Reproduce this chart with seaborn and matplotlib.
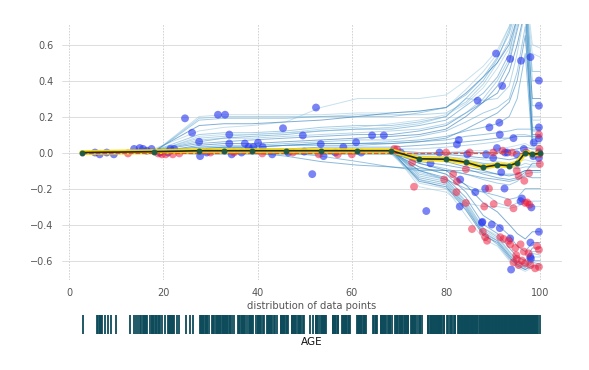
import numpy as np
import pandas as pd
import seaborn as sns
import matplotlib.pyplot as plt

# grid of AGE values where the ICE / PDP curves are evaluated
grid_x = [2.7, 18.0, 27.6, 32.9, 38.8, 46.0, 53.4, 61.2, 68.4, 74.3, 80.0,
          84.2, 87.9, 90.9, 93.4, 95.1, 96.8, 98.3, 100.0]

pdp_y = [0.0, 0.005, 0.01, 0.01, 0.01, 0.01, 0.01, 0.01, 0.01, -0.035, -0.037,
         -0.054, -0.082, -0.068, -0.073, -0.057, 0.0, -0.01, -0.005]

ice_lines = [
    # lines that climb early and surge at the top end
    [0, 0.00, 0.20, 0.21, 0.21, 0.21, 0.21, 0.22, 0.22, 0.23, 0.25, 0.35, 0.45, 0.55, 0.70, 0.85, 0.90, 0.55, 0.53],
    [0, 0.00, 0.19, 0.20, 0.20, 0.20, 0.20, 0.21, 0.21, 0.21, 0.22, 0.28, 0.38, 0.50, 0.62, 0.80, 0.90, 0.40, 0.40],
    [0, 0.01, 0.10, 0.11, 0.11, 0.12, 0.14, 0.15, 0.15, 0.17, 0.20, 0.30, 0.40, 0.52, 0.68, 0.85, 0.95, 0.26, 0.26],
    [0, 0.01, 0.06, 0.08, 0.09, 0.10, 0.12, 0.13, 0.13, 0.15, 0.18, 0.26, 0.33, 0.42, 0.55, 0.75, 0.90, 0.14, 0.14],
    [0, 0.01, 0.05, 0.06, 0.07, 0.08, 0.09, 0.10, 0.10, 0.12, 0.15, 0.22, 0.28, 0.37, 0.50, 0.68, 0.85, 0.08, 0.08],
    [0, 0.00, 0.04, 0.05, 0.05, 0.06, 0.07, 0.08, 0.09, 0.10, 0.13, 0.20, 0.28, 0.33, 0.45, 0.60, 0.80, 0.10, 0.10],
    [0, 0.02, 0.12, 0.14, 0.15, 0.17, 0.25, 0.30, 0.30, 0.30, 0.32, 0.40, 0.48, 0.57, 0.70, 0.85, 0.95, 0.60, 0.58],
    [0, 0.01, 0.08, 0.09, 0.10, 0.11, 0.12, 0.13, 0.14, 0.16, 0.20, 0.30, 0.29, 0.30, 0.37, 0.55, 0.80, 0.06, 0.06],
    [0, 0.00, 0.03, 0.04, 0.04, 0.05, 0.06, 0.07, 0.07, 0.09, 0.12, 0.17, 0.22, 0.25, 0.30, 0.45, 0.70, 0.05, 0.05],
    [0, 0.00, 0.02, 0.03, 0.03, 0.04, 0.05, 0.05, 0.06, 0.07, 0.09, 0.12, 0.14, 0.16, 0.20, 0.30, 0.55, 0.04, 0.04],
    [0, 0.00, 0.02, 0.03, 0.03, 0.04, 0.05, 0.05, 0.05, 0.06, 0.08, 0.13, 0.18, 0.22, 0.28, 0.40, 0.65, 0.12, 0.12],
    [0, 0.01, 0.15, 0.16, 0.16, 0.17, 0.18, 0.20, 0.22, 0.23, 0.25, 0.33, 0.42, 0.50, 0.60, 0.75, 0.85, 0.30, 0.30],
    [0, 0.00, 0.09, 0.10, 0.10, 0.11, 0.13, 0.14, 0.16, 0.18, 0.21, 0.27, 0.36, 0.47, 0.58, 0.72, 0.88, 0.20, 0.20],
    [0, 0.01, 0.07, 0.08, 0.08, 0.09, 0.10, 0.11, 0.12, 0.13, 0.16, 0.22, 0.30, 0.40, 0.52, 0.70, 0.88, 0.18, 0.18],
    [0, 0.00, 0.18, 0.19, 0.19, 0.19, 0.20, 0.20, 0.20, 0.22, 0.25, 0.32, 0.42, 0.53, 0.66, 0.82, 0.92, 0.45, 0.45],
    # lines that stay close to zero
    [0, 0.01, 0.03, 0.03, 0.03, 0.04, 0.04, 0.04, 0.05, 0.06, 0.07, 0.09, 0.10, 0.11, 0.12, 0.13, 0.13, 0.13, 0.13],
    [0, 0.00, 0.01, 0.02, 0.02, 0.02, 0.03, 0.03, 0.03, 0.04, 0.05, 0.06, 0.07, 0.08, 0.08, 0.09, 0.09, 0.09, 0.09],
    [0, 0.00, 0.01, 0.01, 0.01, 0.01, 0.01, 0.01, 0.01, 0.00, 0.00, 0.00, 0.00, 0.00, 0.01, 0.02, 0.03, 0.02, 0.02],
    [0, 0.00, 0.00, 0.00, 0.00, 0.00, 0.00, 0.00, 0.00, -0.02, -0.03, -0.03, -0.04, -0.05, -0.06, -0.05, -0.04, -0.05, -0.05],
    [0, 0.00, 0.02, 0.02, 0.02, 0.02, 0.02, 0.02, 0.02, 0.02, 0.03, 0.04, 0.05, 0.06, 0.08, 0.10, 0.10, 0.09, 0.09],
    [0, 0.00, -0.01, -0.01, -0.01, -0.01, -0.01, -0.01, -0.01, -0.03, -0.04, -0.05, -0.06, -0.07, -0.08, -0.09, -0.08, -0.08, -0.08],
    [0, 0.00, 0.01, 0.01, 0.01, 0.00, -0.02, -0.05, -0.08, -0.10, -0.10, -0.10, -0.11, -0.12, -0.12, -0.12, -0.10, -0.10, -0.10],
    [0, 0.00, 0.01, 0.01, 0.00, -0.02, -0.05, -0.07, -0.08, -0.09, -0.10, -0.12, -0.14, -0.15, -0.16, -0.15, -0.13, -0.14, -0.14],
    [0, 0.00, 0.00, 0.00, 0.00, 0.00, 0.00, 0.00, 0.00, -0.01, -0.01, -0.02, -0.03, -0.03, -0.04, -0.03, 0.00, -0.02, -0.02],
    [0, 0.00, 0.01, 0.01, 0.01, 0.01, 0.01, 0.01, 0.01, 0.00, 0.00, 0.01, 0.01, 0.02, 0.03, 0.04, 0.05, 0.03, 0.03],
    [0, 0.00, 0.00, 0.00, 0.00, 0.00, 0.00, 0.00, 0.00, -0.02, -0.02, -0.04, -0.06, -0.06, -0.07, -0.08, -0.06, -0.07, -0.07],
    # lines that fall moderately after 70
    [0, 0.00, 0.00, 0.00, 0.00, 0.00, 0.00, 0.00, 0.01, -0.06, -0.09, -0.12, -0.15, -0.17, -0.18, -0.16, -0.12, -0.11, -0.11],
    [0, 0.00, 0.00, 0.00, 0.00, 0.00, 0.00, 0.00, 0.00, -0.10, -0.15, -0.20, -0.22, -0.24, -0.26, -0.25, -0.20, -0.20, -0.20],
    [0, 0.00, 0.00, 0.00, 0.00, 0.00, 0.00, 0.00, 0.00, -0.05, -0.07, -0.09, -0.12, -0.14, -0.15, -0.14, -0.11, -0.06, -0.06],
    [0, 0.00, 0.01, 0.01, 0.01, 0.01, 0.01, 0.01, 0.01, -0.03, -0.05, -0.08, -0.10, -0.12, -0.13, -0.12, -0.10, -0.10, -0.10],
    [0, 0.00, 0.00, 0.00, 0.00, 0.00, 0.00, 0.00, -0.01, -0.15, -0.20, -0.28, -0.30, -0.30, -0.31, -0.30, -0.28, -0.30, -0.30],
    [0, 0.00, 0.00, 0.00, 0.00, 0.00, 0.00, 0.00, 0.00, -0.08, -0.12, -0.18, -0.22, -0.28, -0.30, -0.28, -0.27, -0.27, -0.27],
    # lines that fall deep after 70
    [0, 0.00, 0.00, 0.00, 0.00, 0.00, 0.00, 0.00, 0.01, -0.12, -0.15, -0.27, -0.42, -0.47, -0.55, -0.60, -0.62, -0.55, -0.55],
    [0, 0.00, 0.00, 0.00, 0.00, 0.00, 0.00, 0.00, 0.00, -0.14, -0.17, -0.30, -0.45, -0.49, -0.57, -0.62, -0.64, -0.60, -0.60],
    [0, 0.00, 0.00, 0.00, 0.00, 0.00, 0.00, 0.00, 0.01, -0.10, -0.14, -0.25, -0.40, -0.45, -0.53, -0.58, -0.60, -0.53, -0.53],
    [0, 0.00, 0.00, 0.00, 0.00, 0.00, 0.00, 0.00, 0.01, -0.16, -0.19, -0.32, -0.46, -0.50, -0.58, -0.63, -0.65, -0.63, -0.63],
    [0, 0.00, 0.00, 0.00, 0.00, 0.00, 0.00, 0.00, 0.00, -0.17, -0.20, -0.35, -0.48, -0.52, -0.60, -0.64, -0.66, -0.64, -0.64],
    [0, 0.00, 0.00, 0.00, 0.00, 0.00, 0.00, 0.00, 0.00, -0.11, -0.15, -0.28, -0.43, -0.48, -0.56, -0.61, -0.63, -0.58, -0.58],
    [0, 0.00, 0.00, 0.00, 0.00, 0.00, 0.00, 0.00, 0.01, -0.13, -0.16, -0.29, -0.44, -0.49, -0.57, -0.61, -0.63, -0.56, -0.57],
    [0, 0.00, 0.00, 0.00, 0.00, 0.00, 0.00, 0.00, 0.00, -0.15, -0.18, -0.31, -0.45, -0.51, -0.59, -0.62, -0.65, -0.61, -0.62],
    [0, 0.00, 0.00, 0.00, 0.00, 0.00, 0.00, 0.00, 0.00, -0.08, -0.12, -0.22, -0.35, -0.40, -0.46, -0.52, -0.55, -0.50, -0.50],
    [0, 0.00, 0.00, 0.00, 0.00, 0.00, 0.00, 0.00, 0.00, -0.06, -0.10, -0.18, -0.28, -0.33, -0.40, -0.45, -0.48, -0.44, -0.44],
    [0, 0.00, 0.00, 0.00, 0.00, 0.00, 0.00, 0.00, 0.01, -0.19, -0.22, -0.30, -0.42, -0.46, -0.55, -0.60, -0.63, -0.60, -0.60],
]

blue_x = [5.5, 6.5, 8.0, 9.5, 13.8, 15.0, 15.7, 16.5, 17.5, 19.3, 21.0, 21.5, 22.3, 24.6,
          26.1, 27.6, 27.8, 29.2, 31.6, 33.1, 34.0, 34.0, 34.5, 36.6, 37.3, 38.1, 39.1,
          40.1, 41.1, 43.1, 45.4, 46.5, 49.6, 49.9, 51.6, 52.4, 53.4, 54.0, 56.5, 58.2,
          60.9, 62.0, 64.3, 66.8, 70.4, 75.8, 76.7, 78.6, 82.3, 82.7, 83.0, 82.9, 84.5,
          86.2, 86.7, 87.7, 88.3, 89.2, 89.7, 90.6, 90.8, 91.3, 91.4, 91.4, 91.7, 91.9,
          92.4, 93.6, 93.8, 94.3, 95.8, 95.9, 96.1, 97.9, 97.9, 97.9, 98.1, 98.6, 99.7,
          99.7, 99.7, 99.7, 99.7, 99.7, 99.7, 95.0, 93.0, 88.5, 90.0, 92.5, 96.5, 98.5,
          87.6, 93.6, 98.0]
blue_y = [0.0, -0.01, 0.0, -0.01, 0.02, 0.025, 0.02, 0.01, 0.02, 0.0, 0.0, 0.02, 0.02, 0.19,
          0.11, 0.06, -0.02, 0.0, 0.21, 0.21, 0.10, 0.05, -0.01, 0.0, 0.05, 0.03, 0.03,
          0.055, 0.03, -0.01, 0.135, 0.0, 0.095, 0.005, -0.12, 0.25, 0.047, -0.02, 0.0, 0.03,
          0.057, 0.0, 0.095, 0.095, 0.0, -0.325, -0.06, 0.0, 0.045, 0.07, -0.15, -0.30, -0.01,
          -0.22, 0.288, -0.385, -0.20, 0.14, -0.40, 0.55, 0.025, 0.166, 0.10, -0.42, -0.11, 0.37,
          -0.20, 0.52, -0.65, 0.08, -0.27, 0.51, -0.255, 0.53, -0.50, -0.58, -0.305, 0.055, 0.40,
          0.26, 0.14, 0.078, 0.0, -0.44, -0.03, -0.01, 0.0, -0.01, -0.03, 0.0, 0.02, -0.02,
          -0.39, -0.477, -0.59]

red_x = [12.5, 18.9, 19.7, 20.5, 22.0, 23.4, 30.0, 35.0, 41.0, 47.5, 53.0, 57.0, 60.0,
         69.0, 69.6, 72.8, 73.2, 79.6, 81.5, 82.3, 82.2, 84.2, 84.2, 85.5, 88.1, 89.1,
         90.1, 93.1, 94.3, 95.0, 95.4, 96.6, 97.2, 97.6, 99.9, 99.7, 99.8, 99.8, 87.8,
         88.3, 88.7, 91.5, 92.2, 93.3, 93.6, 94.7, 95.8, 94.9, 96.1, 94.3, 95.4, 96.8,
         97.9, 99.3, 99.7, 99.7, 98.9, 96.5, 97.5, 95.0, 90.0, 92.0, 94.0, 97.0, 85.0,
         80.0, 96.8, 97.7]
red_y = [-0.005, -0.005, -0.01, -0.01, -0.01, -0.005, 0.0, 0.0, -0.005, 0.0, -0.01, -0.01, -0.01,
         0.02, 0.018, -0.055, -0.19, -0.15, -0.12, -0.16, -0.22, -0.28, -0.093, -0.425, -0.30, -0.20,
         -0.286, -0.277, -0.31, -0.10, -0.13, -0.157, -0.277, -0.115, -0.064, 0.10, 0.02, -0.01, -0.44,
         -0.47, -0.49, -0.47, -0.48, -0.49, -0.51, -0.53, -0.51, -0.57, -0.60, -0.61, -0.625, -0.615,
         -0.625, -0.52, -0.54, -0.635, -0.643, -0.55, -0.56, -0.59, 0.0, 0.01, 0.0, 0.0, 0.0,
         0.0, -0.28, -0.29]

age_values = [
    2.9, 6.0, 6.2, 6.5, 6.6, 6.8, 7.0, 7.7, 8.3, 9.0, 10.0, 13.0, 13.8,
    14.3, 14.7, 15.0, 15.3, 15.7, 15.8, 16.1, 16.3, 16.5, 17.2, 17.5, 17.7, 17.8, 18.0,
    18.4, 18.5, 18.8, 19.1, 19.3, 19.7, 20.3, 21.0, 21.1, 21.4, 21.5, 21.8, 21.9, 22.1, 22.3,
    22.9, 23.4, 24.8, 25.7, 26.3, 27.7, 27.9, 28.1, 28.4, 28.5, 28.8, 29.1, 29.2, 29.3, 29.6,
    30.3, 30.6, 30.8, 31.1, 31.3, 31.5, 31.9, 32.0, 32.2, 32.6, 32.7, 32.9, 33.0, 33.2, 33.5,
    33.8, 34.1, 34.2, 34.5, 34.9, 35.9, 36.1, 36.3, 36.6, 36.8, 36.9, 37.2, 37.3, 37.8, 38.1,
    38.3, 38.4, 38.5, 38.9, 39.1, 39.7, 40.0, 40.1, 40.3, 40.5, 40.7, 41.1, 41.3, 42.1, 42.2,
    42.4, 42.6, 42.8, 43.1, 43.4, 43.7, 44.1, 44.9, 45.0, 45.1, 45.4, 45.6, 45.7, 46.1, 46.3,
    46.5, 47.3, 47.4, 47.6, 47.8, 48.0, 48.2, 48.5, 48.8, 49.0, 49.1, 49.3, 49.7, 49.9, 51.2,
    51.8, 52.3, 52.5, 52.6, 52.8, 53.2, 53.6, 53.7, 53.8, 54.0, 54.2, 54.4, 54.6, 56.0, 56.1,
    56.4, 56.5, 56.8, 57.0, 57.1, 57.9, 58.1, 58.4, 58.5, 58.7, 58.8, 59.1, 59.5, 59.7, 61.1,
    61.4, 61.5, 61.6, 61.8, 62.0, 62.2, 62.5, 62.6, 62.8, 63.0, 64.5, 64.7, 65.1, 65.2, 65.3,
    66.1, 66.2, 66.5, 66.6, 66.9, 67.0, 67.2, 67.6, 67.8, 68.1, 68.2, 68.5, 69.1, 69.4, 69.5,
    69.6, 69.7, 70.2, 70.3, 70.4, 70.6, 70.7, 71.0, 71.3, 71.6, 71.7, 71.9, 72.0, 72.5, 72.7,
    72.8, 72.9, 73.3, 73.4, 73.5, 73.9, 74.3, 74.4, 74.5, 74.8, 76.1, 76.2, 76.5, 76.7, 76.9,
    77.0, 77.3, 77.5, 77.7, 77.8, 78.1, 78.3, 78.4, 78.6, 78.7, 78.9, 79.2, 79.5, 79.6, 80.3,
    80.5, 80.8, 81.0, 81.3, 81.6, 81.8, 82.0, 82.6, 82.8, 83.0, 83.2, 83.3, 83.4, 83.5, 83.7,
    84.0, 84.1, 84.2, 84.4, 84.5, 84.6, 84.7, 84.8, 85.1, 85.2, 85.4, 85.5, 85.7, 85.9, 86.1,
    86.3, 86.5, 86.6, 86.9, 87.3, 87.4, 87.6, 87.7, 87.9, 88.0, 88.2, 88.4, 88.5, 88.6, 88.8,
    89.0, 89.1, 89.2, 89.4, 89.6, 89.8, 89.9, 90.0, 90.3, 90.4, 90.6, 90.7, 90.8, 91.0, 91.2,
    91.3, 91.5, 91.6, 91.8, 91.9, 92.1, 92.2, 92.4, 92.6, 92.7, 92.9, 93.0, 93.3, 93.4, 93.5,
    93.6, 93.8, 93.9, 94.0, 94.1, 94.3, 94.4, 94.5, 94.6, 94.7, 94.9, 95.0, 95.2, 95.3, 95.4,
    95.6, 95.7, 95.8, 96.0, 96.1, 96.2, 96.4, 96.6, 96.7, 96.8, 96.9, 97.0, 97.1, 97.2, 97.3,
    97.4, 97.5, 97.7, 97.8, 97.9, 98.0, 98.1, 98.2, 98.3, 98.4, 98.5, 98.7, 98.8, 98.9, 99.1,
    99.3, 99.6, 100.0,
]

sns.set_style("white")
plt.rcParams['font.family'] = ['DejaVu Sans']

fig = plt.figure(figsize=(5.89, 3.70), dpi=100, facecolor='white')
ax = fig.add_axes([62 / 589, 90 / 370, 500 / 589, 256 / 370])
ax_rug = fig.add_axes([62 / 589, 36 / 370, 500 / 589, 19 / 370])

# ICE lines in long form, one unit per line
ice_df = pd.DataFrame(
    [(grid_x[j], v, i) for i, row in enumerate(ice_lines) for j, v in enumerate(row)],
    columns=['x', 'y', 'line'])
shades = sns.color_palette("Blues", 12)[4:10]
palette = [shades[i % len(shades)] for i in range(len(ice_lines))]
sns.lineplot(data=ice_df, x='x', y='y', hue='line', units='line', estimator=None,
             palette=palette, alpha=0.55, linewidth=0.7, legend=False, ax=ax, zorder=2)

# actual observations
sns.scatterplot(x=blue_x, y=blue_y, color='#2233ee', alpha=0.6, s=32,
                edgecolor='none', ax=ax, zorder=3)
sns.scatterplot(x=red_x, y=red_y, color='#ee1133', alpha=0.5, s=32,
                edgecolor='none', ax=ax, zorder=3)

# PDP line with highlight and zero reference
ax.plot(grid_x, pdp_y, color='#FEDC00', lw=3.6, alpha=0.9, zorder=4, solid_capstyle='round')
ax.plot([grid_x[0], grid_x[-1]], [0, 0], ls='--', color='#E75438', lw=0.9, zorder=4)
sns.lineplot(x=grid_x, y=pdp_y, color='#1c2a1f', lw=1.2, marker='o', markersize=3.5,
             markerfacecolor='#1f5a42', markeredgecolor='#1f5a42', ax=ax, zorder=5)

ax.set_xlim(-1.5, 104.6)
ax.set_ylim(-0.708, 0.714)
ax.set_xticks([0, 20, 40, 60, 80, 100])
ax.set_yticks([-0.6, -0.4, -0.2, 0.0, 0.2, 0.4, 0.6])
ax.set_xlabel('')
ax.set_ylabel('')
for s in ax.spines.values():
    s.set_visible(False)
ax.tick_params(axis='both', labelsize=7, labelcolor='#555555', color='#bbbbbb',
               length=3, width=0.6, pad=3)
ax.grid(axis='y', color='#d8d8d8', lw=0.6)
ax.grid(axis='x', color='#cccccc', lw=0.6, ls=(0, (2, 1.5)))
ax.set_axisbelow(True)

# distribution of data points
sns.rugplot(x=age_values, height=1, ax=ax_rug, color='#0d4b5a', linewidth=1.3,
            expand_margins=False)
ax_rug.set_xlim(-1.5, 104.6)
ax_rug.set_ylim(0, 1)
ax_rug.axis('off')

fig.text(312 / 589, 1 - 306 / 370, 'distribution of data points', ha='center', va='center',
         fontsize=7.2, color='#555555')
fig.text(312 / 589, 1 - 342 / 370, 'AGE', ha='center', va='center', fontsize=7.5,
         color='#111111')

fig.savefig('out.png', dpi=100)
